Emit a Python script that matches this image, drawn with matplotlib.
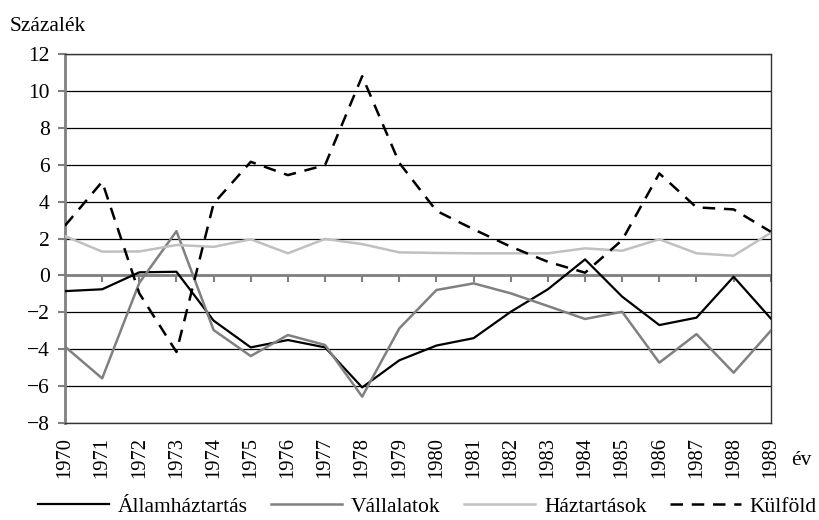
import numpy as np
import matplotlib.pyplot as plt

years = list(range(1970, 1990))

allamhaztartas = [-0.85, -0.75, 0.17, 0.2, -2.45, -3.9, -3.5, -3.9, -6.07, -4.6,
                  -3.8, -3.4, -1.97, -0.75, 0.87, -1.15, -2.69, -2.29, -0.07, -2.33]
vallalatok = [-3.86, -5.58, -0.4, 2.4, -2.96, -4.37, -3.23, -3.77, -6.57, -2.87,
              -0.79, -0.43, -0.97, -1.66, -2.36, -1.97, -4.73, -3.18, -5.27, -3.0]
haztartasok = [2.13, 1.29, 1.3, 1.65, 1.55, 1.96, 1.2, 1.98, 1.7, 1.25,
               1.22, 1.2, 1.2, 1.2, 1.47, 1.34, 1.96, 1.2, 1.07, 2.31]
kulfold = [2.7, 5.08, -0.97, -4.15, 3.9, 6.16, 5.44, 5.98, 10.8, 6.1,
           3.5, 2.5, 1.56, 0.74, 0.15, 1.92, 5.53, 3.69, 3.58, 2.37]

labels = ['Államháztartás', 'Vállalatok', 'Háztartások', 'Külföld']
yticks = [-8, -6, -4, -2, 0, 2, 4, 6, 8, 10, 12]

plt.rcParams['font.family'] = ['Liberation Serif', 'DejaVu Serif']
fs = 15.5

fig = plt.figure(figsize=(8.19, 5.2), dpi=100)
ax = fig.add_axes([0.0794, 0.1865, 0.8617, 0.7095])

# category axis crossing at zero, with its tick marks
ax.axhline(0, color='#808080', lw=2, zorder=1.5)
ax.plot(years, [0] * len(years), ls='none', marker=3, markersize=5,
        markeredgewidth=1.5, color='#808080', zorder=1.5)

l1, = ax.plot(years, allamhaztartas, color='black', lw=1.6, zorder=3)
l2, = ax.plot(years, vallalatok, color='#808080', lw=1.8, zorder=3)
l3, = ax.plot(years, haztartasok, color='#c0c0c0', lw=1.8, zorder=3)
l4, = ax.plot(years, kulfold, color='black', lw=1.8, dashes=(5, 3.5), zorder=3)

ax.set_xlim(years[0], years[-1])
ax.set_ylim(-8, 12)
ax.set_yticks(yticks)
ax.set_yticklabels([str(v).replace('-', '\u2212') for v in yticks], fontsize=fs)
ax.yaxis.grid(True, color='black', lw=0.9)
ax.set_axisbelow(True)

ax.set_xticks(years)
ax.set_xticklabels([str(y) for y in years], rotation=90, fontsize=14.8)
ax.tick_params(axis='x', length=0, pad=10)
ax.spines['left'].set_color('#808080')
ax.spines['left'].set_linewidth(2)
ax.tick_params(axis='y', direction='out', length=5, width=1.5, color='#808080', pad=6)
for s in ['top', 'right', 'bottom']:
    ax.spines[s].set_color('#333333')
    ax.spines[s].set_linewidth(1)

fig.text(0.012, 0.94, 'Százalék', fontsize=fs)
fig.text(0.979, 0.115, 'év', fontsize=fs, ha='center', va='center')

fig.legend([l1, l2, l3, l4], labels, loc='center', bbox_to_anchor=(0.522, 0.026),
           ncol=4, frameon=False, fontsize=fs, handlelength=3.3, columnspacing=1.1,
           handletextpad=0.4, borderpad=0)

fig.savefig('out.png', dpi=100)
